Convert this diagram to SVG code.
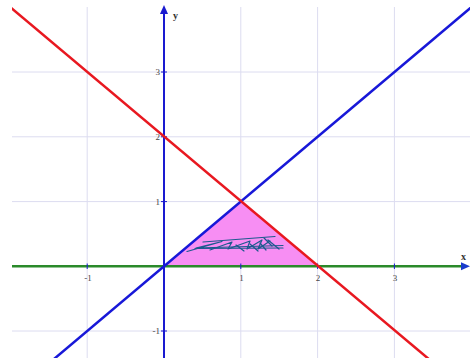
<svg xmlns="http://www.w3.org/2000/svg" width="470" height="362" viewBox="0 0 470 362">
<style>
.grid{stroke:#dcdcf0;stroke-width:1;fill:none}
.tick{stroke:#1a1ad0;stroke-width:1}
.lbl{font-family:"Liberation Serif","Times New Roman",serif;font-size:9px;fill:#444}
.ax{font-family:"Liberation Serif","Times New Roman",serif;font-size:10px;font-weight:bold;fill:#333}
</style>
<defs>
<clipPath id="plot"><rect x="12" y="7" width="458" height="351"/></clipPath>
</defs>
<rect width="470" height="362" fill="#ffffff"/>
<g id="grid" class="grid">
<line x1="87.2" y1="7" x2="87.2" y2="358"/>
<line x1="240.8" y1="7" x2="240.8" y2="358"/>
<line x1="317.6" y1="7" x2="317.6" y2="358"/>
<line x1="394.4" y1="7" x2="394.4" y2="358"/>
<line x1="12" y1="72" x2="470" y2="72"/>
<line x1="12" y1="136.8" x2="470" y2="136.8"/>
<line x1="12" y1="201.6" x2="470" y2="201.6"/>
<line x1="12" y1="331" x2="470" y2="331"/>
</g>
<g id="region">
<polygon points="164,266.3 240.8,201.6 317.6,266.3" fill="#f78ef3"/>
</g>
<g id="scribble" fill="none" stroke="#1b5a8e" stroke-width="1.2" stroke-linecap="round" stroke-linejoin="round">
<path d="M203,242 L275,236.5"/>
<path d="M187,251.5 L222,241.5 L196,248 L283,245.5"/>
<path d="M210,250 L232,242 L228,249 L250,241 L247,249 L262,240 L258,249 L270,241"/>
<path d="M236,245 L244,251 M250,244 L258,251 M260,243 L266,250 M264,238 L272,246 M268,240 L279,249"/>
<path d="M195,248.5 L283,248"/>
</g>
<g id="axes">
<line x1="12" y1="266.3" x2="464" y2="266.3" stroke="#2a8a2a" stroke-width="2.5"/>
<polygon points="470,266.3 461,262.3 461,270.3" fill="#1a3ccc"/>
<line x1="164" y1="358" x2="164" y2="13" stroke="#1a1ad0" stroke-width="2"/>
<polygon points="164,5 160,14 168,14" fill="#1a1ad0"/>
<g class="tick">
<line x1="87.2" y1="263.5" x2="87.2" y2="269"/>
<line x1="240.8" y1="263.5" x2="240.8" y2="269"/>
<line x1="317.6" y1="263.5" x2="317.6" y2="269"/>
<line x1="394.4" y1="263.5" x2="394.4" y2="269"/>
<line x1="161" y1="72" x2="167" y2="72"/>
<line x1="161" y1="136.8" x2="167" y2="136.8"/>
<line x1="161" y1="201.6" x2="167" y2="201.6"/>
<line x1="161" y1="331" x2="167" y2="331"/>
</g>
</g>
<g id="lines" clip-path="url(#plot)" stroke-width="2.5" stroke-linecap="butt">
<line x1="48.8" y1="363.4" x2="472.7" y2="6" stroke="#1818d8"/>
<line x1="10.4" y1="7.3" x2="432.8" y2="362.4" stroke="#e81820"/>
</g>
<g id="labels">
<text class="lbl" x="88" y="281" text-anchor="middle">-1</text>
<text class="lbl" x="241.5" y="281" text-anchor="middle">1</text>
<text class="lbl" x="318" y="281" text-anchor="middle">2</text>
<text class="lbl" x="395" y="281" text-anchor="middle">3</text>
<text class="lbl" x="160" y="75" text-anchor="end">3</text>
<text class="lbl" x="160" y="140" text-anchor="end">2</text>
<text class="lbl" x="160" y="205" text-anchor="end">1</text>
<text class="lbl" x="160" y="334" text-anchor="end">-1</text>
<text class="ax" x="173" y="19">y</text>
<text class="ax" x="461" y="260">x</text>
</g>
</svg>
